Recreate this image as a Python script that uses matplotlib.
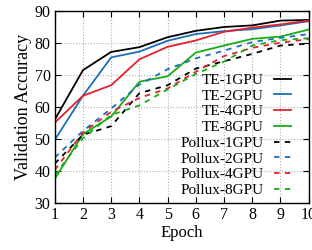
import matplotlib
matplotlib.use('Agg')
import matplotlib.pyplot as plt

epochs = [1, 2, 3, 4, 5, 6, 7, 8, 9, 10]

te_1gpu = [56.0, 71.5, 77.2, 78.7, 81.8, 83.8, 85.0, 85.5, 87.0, 87.2]
te_2gpu = [49.7, 63.5, 75.5, 77.3, 80.7, 82.8, 83.7, 84.3, 85.5, 86.8]
te_4gpu = [55.1, 63.5, 66.8, 74.9, 78.8, 80.8, 83.5, 84.8, 85.8, 87.0]
te_8gpu = [37.5, 51.5, 57.0, 67.9, 69.6, 77.0, 79.2, 81.3, 82.0, 84.2]

pollux_1gpu = [42.3, 51.3, 54.0, 64.3, 66.8, 72.0, 74.3, 76.6, 79.2, 79.8]
pollux_2gpu = [44.2, 52.5, 59.5, 67.0, 71.8, 75.2, 77.6, 80.3, 81.6, 82.8]
pollux_4gpu = [40.3, 52.0, 58.5, 62.8, 65.8, 71.0, 75.9, 78.5, 80.1, 81.2]
pollux_8gpu = [38.7, 50.2, 57.5, 60.5, 65.5, 70.3, 74.2, 79.2, 80.9, 81.5]

labels = ['TE-1GPU', 'TE-2GPU', 'TE-4GPU', 'TE-8GPU',
          'Pollux-1GPU', 'Pollux-2GPU', 'Pollux-4GPU', 'Pollux-8GPU']
colors = ['black', '#1a6ebd', '#e3222b', '#17ad17']

plt.rcParams['font.family'] = ['Liberation Serif', 'DejaVu Serif']

fig = plt.figure(figsize=(3.12, 2.5), dpi=100)
ax = fig.add_axes([0.1753, 0.188, 0.8141, 0.768])

te = [te_1gpu, te_2gpu, te_4gpu, te_8gpu]
pollux = [pollux_1gpu, pollux_2gpu, pollux_4gpu, pollux_8gpu]

for i in range(4):
    ax.plot(epochs, te[i], color=colors[i], lw=1.3, label=labels[i])
for i in range(4):
    ax.plot(epochs, pollux[i], color=colors[i], lw=1.3, ls=(0, (3, 3)),
            label=labels[i + 4])

ax.set_xlim(1, 10)
ax.set_ylim(30, 90)
ax.set_xticks(epochs)
ax.set_yticks([30, 40, 50, 60, 70, 80, 90])
ax.tick_params(direction='in', top=True, right=True, length=4, width=0.8,
               labelsize=11.5, pad=3)
ax.grid(True, color='#b0b0b0', ls=':', lw=0.8)
for s in ax.spines.values():
    s.set_linewidth(1.0)

ax.set_xlabel('Epoch', fontsize=12, labelpad=1)
ax.set_ylabel('Validation Accuracy', fontsize=13, labelpad=2)

ax.legend(loc='lower right', bbox_to_anchor=(0.955, 0.0), frameon=False,
          markerfirst=False, fontsize=11, handlelength=1.1, handletextpad=0.7,
          labelspacing=0.13, borderaxespad=0.2, borderpad=0.2)

fig.savefig('out.png', dpi=100)
